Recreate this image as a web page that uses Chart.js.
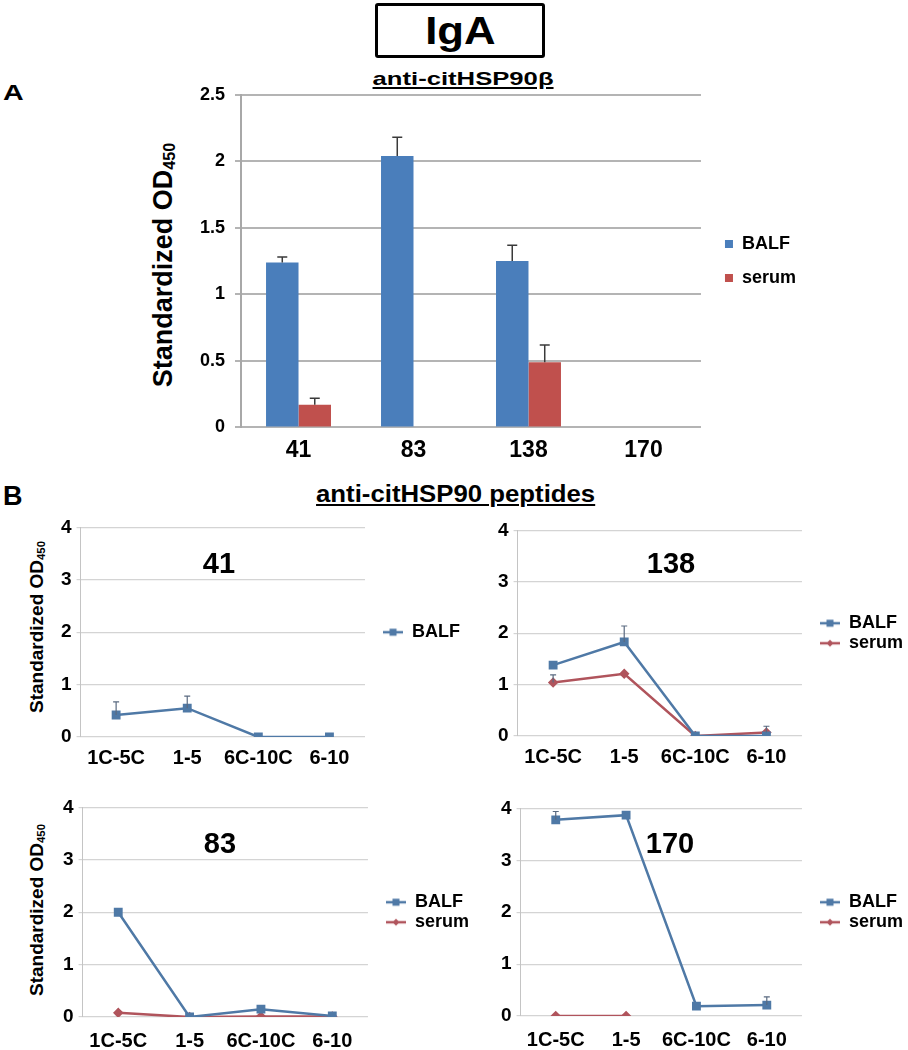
<!DOCTYPE html>
<html><head><meta charset="utf-8">
<script src="https://cdn.jsdelivr.net/npm/chart.js@4.4.0/dist/chart.umd.min.js"></script>
<style>
html,body{margin:0;padding:0;background:#fff;}
body{width:908px;height:1050px;position:relative;overflow:hidden;font-family:"Liberation Sans",Arial,sans-serif;color:#000;}
.abs{position:absolute;white-space:nowrap;font-weight:bold;line-height:1;}
.wrap{position:absolute;left:0;top:0;}
.ytitle{position:absolute;white-space:nowrap;font-weight:bold;line-height:1;transform:translate(-50%,-50%) rotate(-90deg);}
.ytitle sub{font-size:0.6em;vertical-align:-0.2em;line-height:0;}
.ctitle{position:absolute;width:200px;text-align:center;font-weight:bold;font-size:29px;line-height:1;}
</style></head><body>

<div class="abs" style="left:375px;top:3px;width:164px;height:49px;border:3px solid #000;border-radius:3px;text-align:center;font-size:39px;line-height:49px;"><span style="display:inline-block;transform:scaleX(1.12)">IgA</span></div>
<div class="abs" style="left:3px;top:82px;font-size:22px;transform:scaleX(1.3);transform-origin:left top;">A</div>
<div class="abs" style="left:263px;top:69px;width:400px;text-align:center;font-size:19px;"><span style="display:inline-block;transform:scaleX(1.35);text-decoration:underline;text-decoration-thickness:2px;text-underline-offset:2px;">anti-citHSP90β</span></div>
<div class="ytitle" style="left:163px;top:265px;font-size:27px;">Standardized OD<sub>450</sub></div>

<div class="abs" style="left:3px;top:483px;font-size:27px;">B</div>
<div class="abs" style="left:256px;top:483px;width:400px;text-align:center;font-size:23px;"><span style="display:inline-block;transform:scaleX(1.12);text-decoration:underline;text-decoration-thickness:2px;text-underline-offset:2px;">anti-citHSP90 peptides</span></div>
<div class="ytitle" style="left:36px;top:627px;font-size:19px;">Standardized OD<sub>450</sub></div>
<div class="ytitle" style="left:36px;top:910px;font-size:19px;">Standardized OD<sub>450</sub></div>

<div class="wrap"><canvas id="cA"></canvas></div>
<div class="wrap"><canvas id="c41"></canvas></div>
<div class="wrap"><canvas id="c138"></canvas></div>
<div class="wrap"><canvas id="c83"></canvas></div>
<div class="wrap"><canvas id="c170"></canvas></div>

<div class="ctitle" style="left:119px;top:549px;">41</div>
<div class="ctitle" style="left:571px;top:549px;">138</div>
<div class="ctitle" style="left:120px;top:829px;">83</div>
<div class="ctitle" style="left:570px;top:829px;">170</div>

<script>
// ---------- Data ----------
const catsA = ['41', '83', '138', '170'];
const balfA = [1.24, 2.04, 1.25, 0];
const balfAErr = [1.28, 2.18, 1.37, null];
const serumA = [0.17, 0, 0.49, 0];
const serumAErr = [0.22, null, 0.62, null];
const yTicksA = [0, 0.5, 1, 1.5, 2, 2.5];

const peptides = ['1C-5C', '1-5', '6C-10C', '6-10'];
const balf41 = [0.42, 0.55, 0, 0];
const balf41Err = [0.67, 0.78, null, null];
const balf138 = [1.38, 1.83, 0, 0];
const balf138Err = [null, 2.14, null, null];
const serum138 = [1.04, 1.21, 0, 0.07];
const serum138Err = [1.19, null, null, 0.19];
const balf83 = [2.0, 0, 0.15, 0.02];
const serum83 = [0.08, 0, 0.01, 0.01];
const balf170 = [3.78, 3.87, 0.19, 0.21];
const balf170Err = [3.94, null, null, 0.37];
const serum170 = [0, 0, null, null];
const yTicksB = [0, 1, 2, 3, 4];

// ---------- Styles ----------
const FONT = '"Liberation Sans", Arial, sans-serif';
Chart.defaults.font.family = FONT;
Chart.defaults.font.weight = 'bold';
Chart.defaults.color = '#000';

const BAR_BLUE = '#4a7ebb', BAR_RED = '#c0504d';
const LINE_BLUE = '#4f79a6', LINE_RED = '#b0545c';

const errorBars = {
  id: 'errorBars',
  afterDatasetsDraw(chart, args, opts) {
    const ctx = chart.ctx, ys = chart.scales.y;
    chart.data.datasets.forEach((ds, di) => {
      if (!ds.errUp) return;
      const meta = chart.getDatasetMeta(di);
      ctx.save();
      ctx.strokeStyle = opts.color || '#333';
      ctx.lineWidth = opts.width || 1.5;
      ds.errUp.forEach((v, i) => {
        if (v == null) return;
        const el = meta.data[i];
        const x = el.x, y0 = el.y, y1 = ys.getPixelForValue(v);
        ctx.beginPath();
        ctx.moveTo(x, y0); ctx.lineTo(x, y1);
        ctx.moveTo(x - opts.cap, y1); ctx.lineTo(x + opts.cap, y1);
        ctx.stroke();
      });
      ctx.restore();
    });
  }
};
const legendShift = {
  id: 'legendShift',
  afterLayout(chart, args, opts) {
    if (chart.legend && opts.dx) { chart.legend.left += opts.dx; chart.legend.right += opts.dx; }
  }
};

function makeIcon(color, style) {
  const c = document.createElement('canvas');
  c.width = 20; c.height = 10;
  const x = c.getContext('2d');
  x.strokeStyle = color; x.lineWidth = 2.5;
  x.beginPath(); x.moveTo(0, 5); x.lineTo(20, 5); x.stroke();
  x.fillStyle = color;
  if (style === 'rect') { x.fillRect(6.5, 1.5, 7, 7); }
  else { x.beginPath(); x.moveTo(10, 1.5); x.lineTo(13.5, 5); x.lineTo(10, 8.5); x.lineTo(6.5, 5); x.closePath(); x.fill(); }
  return c;
}
const icons = { BALF: makeIcon(LINE_BLUE, 'rect'), serum: makeIcon(LINE_RED, 'diamond') };

function build(id, makeCfg, t) {
  const cv = document.getElementById(id);
  const wrap = cv.parentElement;
  cv.width = 600; cv.height = 320;
  let ch = new Chart(cv, makeCfg());
  const a = ch.chartArea;
  const exL = a.left, exR = ch.width - a.right, exT = a.top, exB = ch.height - a.bottom;
  ch.destroy();
  const W = Math.round(exL + (t.r - t.l) + exR);
  const H = Math.round(exT + (t.b - t.t) + exB);
  cv.width = W; cv.height = H; cv.style.width = W + 'px'; cv.style.height = H + 'px';
  ch = new Chart(cv, makeCfg());
  const a2 = ch.chartArea;
  wrap.style.left = Math.round(t.l - a2.left) + 'px';
  wrap.style.top = Math.round(t.t - a2.top) + 'px';
  return ch;
}

// ---------- Panel A: bar chart ----------
build('cA', () => ({
  type: 'bar',
  data: {
    labels: catsA,
    datasets: [
      { label: 'BALF', data: balfA, backgroundColor: BAR_BLUE, errUp: balfAErr },
      { label: 'serum', data: serumA, backgroundColor: BAR_RED, errUp: serumAErr }
    ]
  },
  options: {
    responsive: false, maintainAspectRatio: false, animation: false, devicePixelRatio: 1,
    layout: { padding: { top: 12, right: 12, bottom: 4, left: 4 } },
    datasets: { bar: { categoryPercentage: 0.565, barPercentage: 1 } },
    scales: {
      x: {
        grid: { display: false, drawTicks: false }, border: { display: false },
        ticks: { font: { size: 23, weight: 'bold' }, color: '#000', padding: 9 }
      },
      y: {
        min: 0, max: 2.5,
        afterBuildTicks: s => { s.ticks = yTicksA.map(v => ({ value: v })); },
        grid: { color: '#b4b4b4', lineWidth: 2, tickLength: 6, drawTicks: true },
        border: { color: '#a8a8a8', width: 2 },
        ticks: { font: { size: 18, weight: 'bold' }, color: '#000', padding: 10, callback: v => String(v) }
      }
    },
    plugins: {
      legend: {
        position: 'right', align: 'center', fullSize: false,
        labels: { boxWidth: 8, boxHeight: 8, padding: 16, font: { size: 18, weight: 'bold' }, color: '#000' }
      },
      legendShift: { dx: 8 },
      errorBars: { color: '#3a3a3a', width: 1.5, cap: 5 },
      tooltip: { enabled: false }
    }
  },
  plugins: [errorBars, legendShift]
}), { l: 241, r: 701, t: 95, b: 428 });

// ---------- Panel B: line charts ----------
function lineCfg(series, xPad) {
  return () => ({
    type: 'line',
    data: {
      labels: peptides,
      datasets: series.map(s => ({
        label: s.label, data: s.data, errUp: s.err || null,
        borderColor: s.label === 'BALF' ? LINE_BLUE : LINE_RED,
        backgroundColor: s.label === 'BALF' ? LINE_BLUE : LINE_RED,
        pointStyle: s.label === 'BALF' ? 'rect' : 'rectRot',
        pointRadius: s.label === 'BALF' ? 4.5 : 3.5,
        borderWidth: 2.5, tension: 0, spanGaps: false
      }))
    },
    options: {
      responsive: false, maintainAspectRatio: false, animation: false, devicePixelRatio: 1,
      layout: { padding: { top: 12, right: 20, bottom: 4, left: 4 } },
      scales: {
        x: {
          offset: true,
          grid: { display: false, drawTicks: false }, border: { display: false },
          ticks: { font: { size: 20, weight: 'bold' }, color: '#000', padding: xPad, maxRotation: 0, autoSkip: false }
        },
        y: {
          min: 0, max: 4,
          afterBuildTicks: s => { s.ticks = yTicksB.map(v => ({ value: v })); },
          grid: { color: '#d4d4d4', lineWidth: 1.2, tickLength: 4, drawTicks: true },
          border: { color: '#c4c4c4', width: 1 },
          ticks: { font: { size: 19, weight: 'bold' }, color: '#000', padding: 5, callback: v => String(v) }
        }
      },
      plugins: {
        legend: {
          position: 'right', align: 'center', fullSize: false,
          labels: {
            usePointStyle: true, pointStyleWidth: 20, padding: 2,
            font: { size: 18, weight: 'bold' }, color: '#000',
            generateLabels(chart) {
              const items = Chart.defaults.plugins.legend.labels.generateLabels(chart);
              items.forEach(it => { it.pointStyle = icons[chart.data.datasets[it.datasetIndex].label]; });
              return items;
            }
          }
        },
        legendShift: { dx: 16 },
        errorBars: { color: '#5a6a80', width: 1.2, cap: 3 },
        tooltip: { enabled: false }
      }
    },
    plugins: [errorBars, legendShift]
  });
}

build('c41', lineCfg([{ label: 'BALF', data: balf41, err: balf41Err }], 9), { l: 81, r: 365, t: 527, b: 737 });
build('c138', lineCfg([{ label: 'BALF', data: balf138, err: balf138Err }, { label: 'serum', data: serum138, err: serum138Err }], 9), { l: 518, r: 802, t: 530, b: 736 });
build('c83', lineCfg([{ label: 'BALF', data: balf83 }, { label: 'serum', data: serum83 }], 12), { l: 83, r: 368, t: 807, b: 1017 });
build('c170', lineCfg([{ label: 'BALF', data: balf170, err: balf170Err }, { label: 'serum', data: serum170 }], 12), { l: 521, r: 802, t: 808, b: 1016 });
</script>
</body></html>
